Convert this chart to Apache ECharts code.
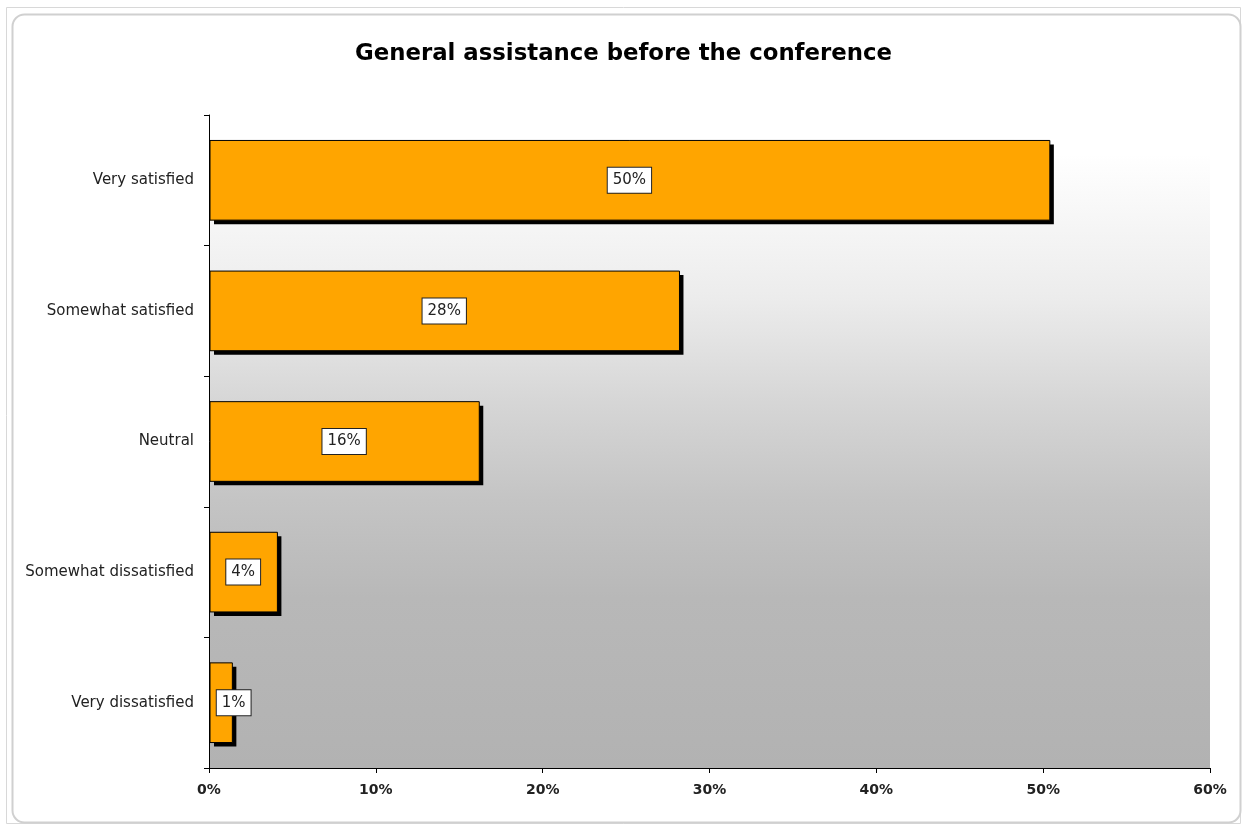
<!DOCTYPE html>
<html><head><meta charset="utf-8">
<script src="https://cdn.jsdelivr.net/npm/echarts@6/dist/echarts.min.js"></script>
<style>html,body{margin:0;padding:0;background:#fff;}#c{width:1247px;height:825px;}</style>
</head><body><div id="c"></div>
<script>
const titleText = 'General assistance before the conference';
const categories = ['Very satisfied', 'Somewhat satisfied', 'Neutral', 'Somewhat dissatisfied', 'Very dissatisfied'];
const values = [50.4, 28.2, 16.2, 4.1, 1.4];
const labels = ['50%', '28%', '16%', '4%', '1%'];
const xTicks = [0, 10, 20, 30, 40, 50, 60];

const chart = echarts.init(document.getElementById('c'), null, {renderer: 'canvas'});
const labelData = values.map((v, i) => {
  const d = {value: v, label: {formatter: labels[i]}};
  if (v < 3) d.label.offset = [13, 0];
  return d;
});
const barData = values.map((v, i) => [v, i]);
const BAR_RATIO = 0.61;

function renderBar(params, api) {
  const v = api.value(0), idx = api.value(1);
  const p0 = api.coord([0, idx]);
  const p1 = api.coord([v, idx]);
  const h = api.size([0, 1])[1] * BAR_RATIO;
  const x = p0[0] + 1, y = p0[1] - h / 2, w = p1[0] - p0[0] - 1;
  return {
    type: 'group',
    children: [
      {type: 'rect', shape: {x: x + 4, y: y + 4, width: w, height: h}, style: {fill: '#000'}},
      {type: 'rect', shape: {x: x, y: y, width: w, height: h}, style: {fill: '#FFA500', stroke: '#000', lineWidth: 1}}
    ]
  };
}

chart.setOption({
  animation: false,
  backgroundColor: '#ffffff',
  graphic: [
    {type: 'rect', shape: {x: 6.5, y: 7.5, width: 1234, height: 816}, style: {fill: 'none', stroke: '#d8d8d8', lineWidth: 1}, z: -10},
    {type: 'rect', shape: {x: 12.5, y: 14.5, width: 1228, height: 808, r: 12}, style: {fill: '#ffffff', stroke: '#d0d0d0', lineWidth: 2}, z: -9}
  ],
  title: {
    text: titleText, left: 'center', top: 38,
    textStyle: {fontFamily: 'DejaVu Sans', fontWeight: 'bold', fontSize: 22.8, color: '#000'}
  },
  grid: {
    left: 209, right: 37, top: 115, bottom: 57,
    show: true, borderWidth: 0,
    backgroundColor: {type: 'linear', x: 0, y: 0, x2: 0, y2: 1, colorStops: [
      {offset: 0, color: '#ffffff'}, {offset: 0.06, color: '#ffffff'}, {offset: 0.13, color: '#f9f9f9'},
      {offset: 0.28, color: '#ececec'}, {offset: 0.44, color: '#d6d6d6'}, {offset: 0.59, color: '#c4c4c4'},
      {offset: 0.74, color: '#b8b8b8'}, {offset: 1, color: '#b2b2b2'}]}
  },
  xAxis: {
    type: 'value', min: 0, max: 60, interval: 10,
    axisLine: {show: true, lineStyle: {color: '#000', width: 1}},
    axisTick: {show: true, length: 5, lineStyle: {color: '#000'}},
    splitLine: {show: false},
    axisLabel: {formatter: v => xTicks.includes(v) ? v + '%' : '', fontFamily: 'DejaVu Sans', fontWeight: 'bold', fontSize: 14, color: '#222', margin: 15}
  },
  yAxis: {
    type: 'category', data: categories, inverse: true,
    axisLine: {show: true, lineStyle: {color: '#000', width: 1}},
    axisTick: {show: true, length: 5, lineStyle: {color: '#000'}},
    axisLabel: {fontFamily: 'DejaVu Sans', fontSize: 15, color: '#222', margin: 15}
  },
  series: [
    {type: 'custom', renderItem: renderBar, data: barData, encode: {x: 0, y: 1}, z: 2},
    {
      type: 'bar', data: labelData, barWidth: '61%', z: 3,
      itemStyle: {color: 'rgba(0,0,0,0)'},
      label: {show: true, position: 'inside', fontFamily: 'DejaVu Sans', fontSize: 15, lineHeight: 15, color: '#222',
        backgroundColor: '#fff', borderColor: '#222', borderWidth: 1, padding: [5, 5, 5, 5]}
    }
  ]
});
</script></body></html>
